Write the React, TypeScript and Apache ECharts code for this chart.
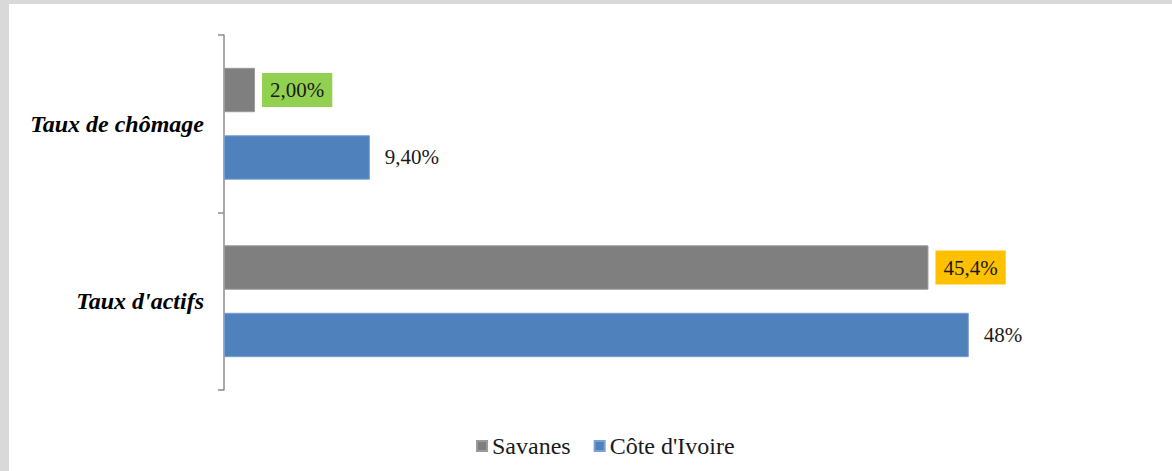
import React, { useEffect, useRef } from "react";
import * as echarts from "echarts";

// Indicators shown on the category axis (top to bottom)
const categories = ["Taux de chômage", "Taux d'actifs"];

// Rates in percent
const savanesValues = [2.0, 45.4];
const ivoireValues = [9.4, 48];

// Decimal places used when printing each value label
const savanesDigits = [2, 1];
const ivoireDigits = [2, 0];

// Highlight boxes behind the Savanes value labels
const savanesLabelBg = ["#92D050", "#FFC000"];

const serif = "Liberation Serif";

const fmt = (v: number, d: number) => v.toFixed(d).replace(".", ",") + "%";

export default function App() {
  const ref = useRef<HTMLDivElement>(null);

  useEffect(() => {
    if (!ref.current) return;
    const chart = echarts.init(ref.current, undefined, { renderer: "svg" });

    const labelBase = {
      show: true,
      position: "right",
      fontFamily: serif,
      fontSize: 21,
      color: "#1a1a1a",
    };

    chart.setOption({
      animation: false,
      backgroundColor: "#ffffff",
      graphic: [
        { type: "rect", left: 0, top: 0, shape: { width: 1172, height: 4 }, style: { fill: "#D9D9D9" } },
        { type: "rect", left: 0, top: 0, shape: { width: 9, height: 471 }, style: { fill: "#D9D9D9" } },
      ],
      grid: { left: 224, top: 35, height: 355, width: 931, containLabel: false },
      xAxis: { type: "value", min: 0, max: 60, show: false },
      yAxis: {
        type: "category",
        data: categories,
        inverse: true,
        axisLine: { show: true, lineStyle: { color: "#8c8c8c", width: 1.5 } },
        axisTick: { show: true, length: 6, lineStyle: { color: "#8c8c8c", width: 1.5 } },
        axisLabel: {
          margin: 20,
          fontFamily: serif,
          fontWeight: "bold",
          fontStyle: "italic",
          fontSize: 24,
          color: "#000",
        },
        splitLine: { show: false },
      },
      legend: {
        left: 471,
        top: 429,
        itemWidth: 10,
        itemHeight: 10,
        itemGap: 23,
        icon: "rect",
        textStyle: { fontFamily: serif, fontSize: 24, color: "#1a1a1a" },
        data: ["Savanes", "Côte d'Ivoire"],
      },
      series: [
        {
          name: "Savanes",
          type: "bar",
          barGap: "52%",
          barCategoryGap: "37%",
          itemStyle: { color: "#7F7F7F", borderColor: "#9a9a9a", borderWidth: 1 },
          data: savanesValues.map((v, i) => ({
            value: v,
            label: {
              ...labelBase,
              distance: 7,
              backgroundColor: savanesLabelBg[i],
              padding: [7, 8, 6, 8],
              formatter: () => fmt(v, savanesDigits[i]),
            },
          })),
        },
        {
          name: "Côte d'Ivoire",
          type: "bar",
          barGap: "52%",
          barCategoryGap: "37%",
          itemStyle: { color: "#4F81BD", borderColor: "#7a9fd0", borderWidth: 1 },
          data: ivoireValues.map((v, i) => ({
            value: v,
            label: {
              ...labelBase,
              distance: 15,
              formatter: () => fmt(v, ivoireDigits[i]),
            },
          })),
        },
      ],
    });

    return () => chart.dispose();
  }, []);

  return (
    <div
      ref={ref}
      style={{ position: "absolute", left: 0, top: 0, width: 1172, height: 471 }}
    />
  );
}
